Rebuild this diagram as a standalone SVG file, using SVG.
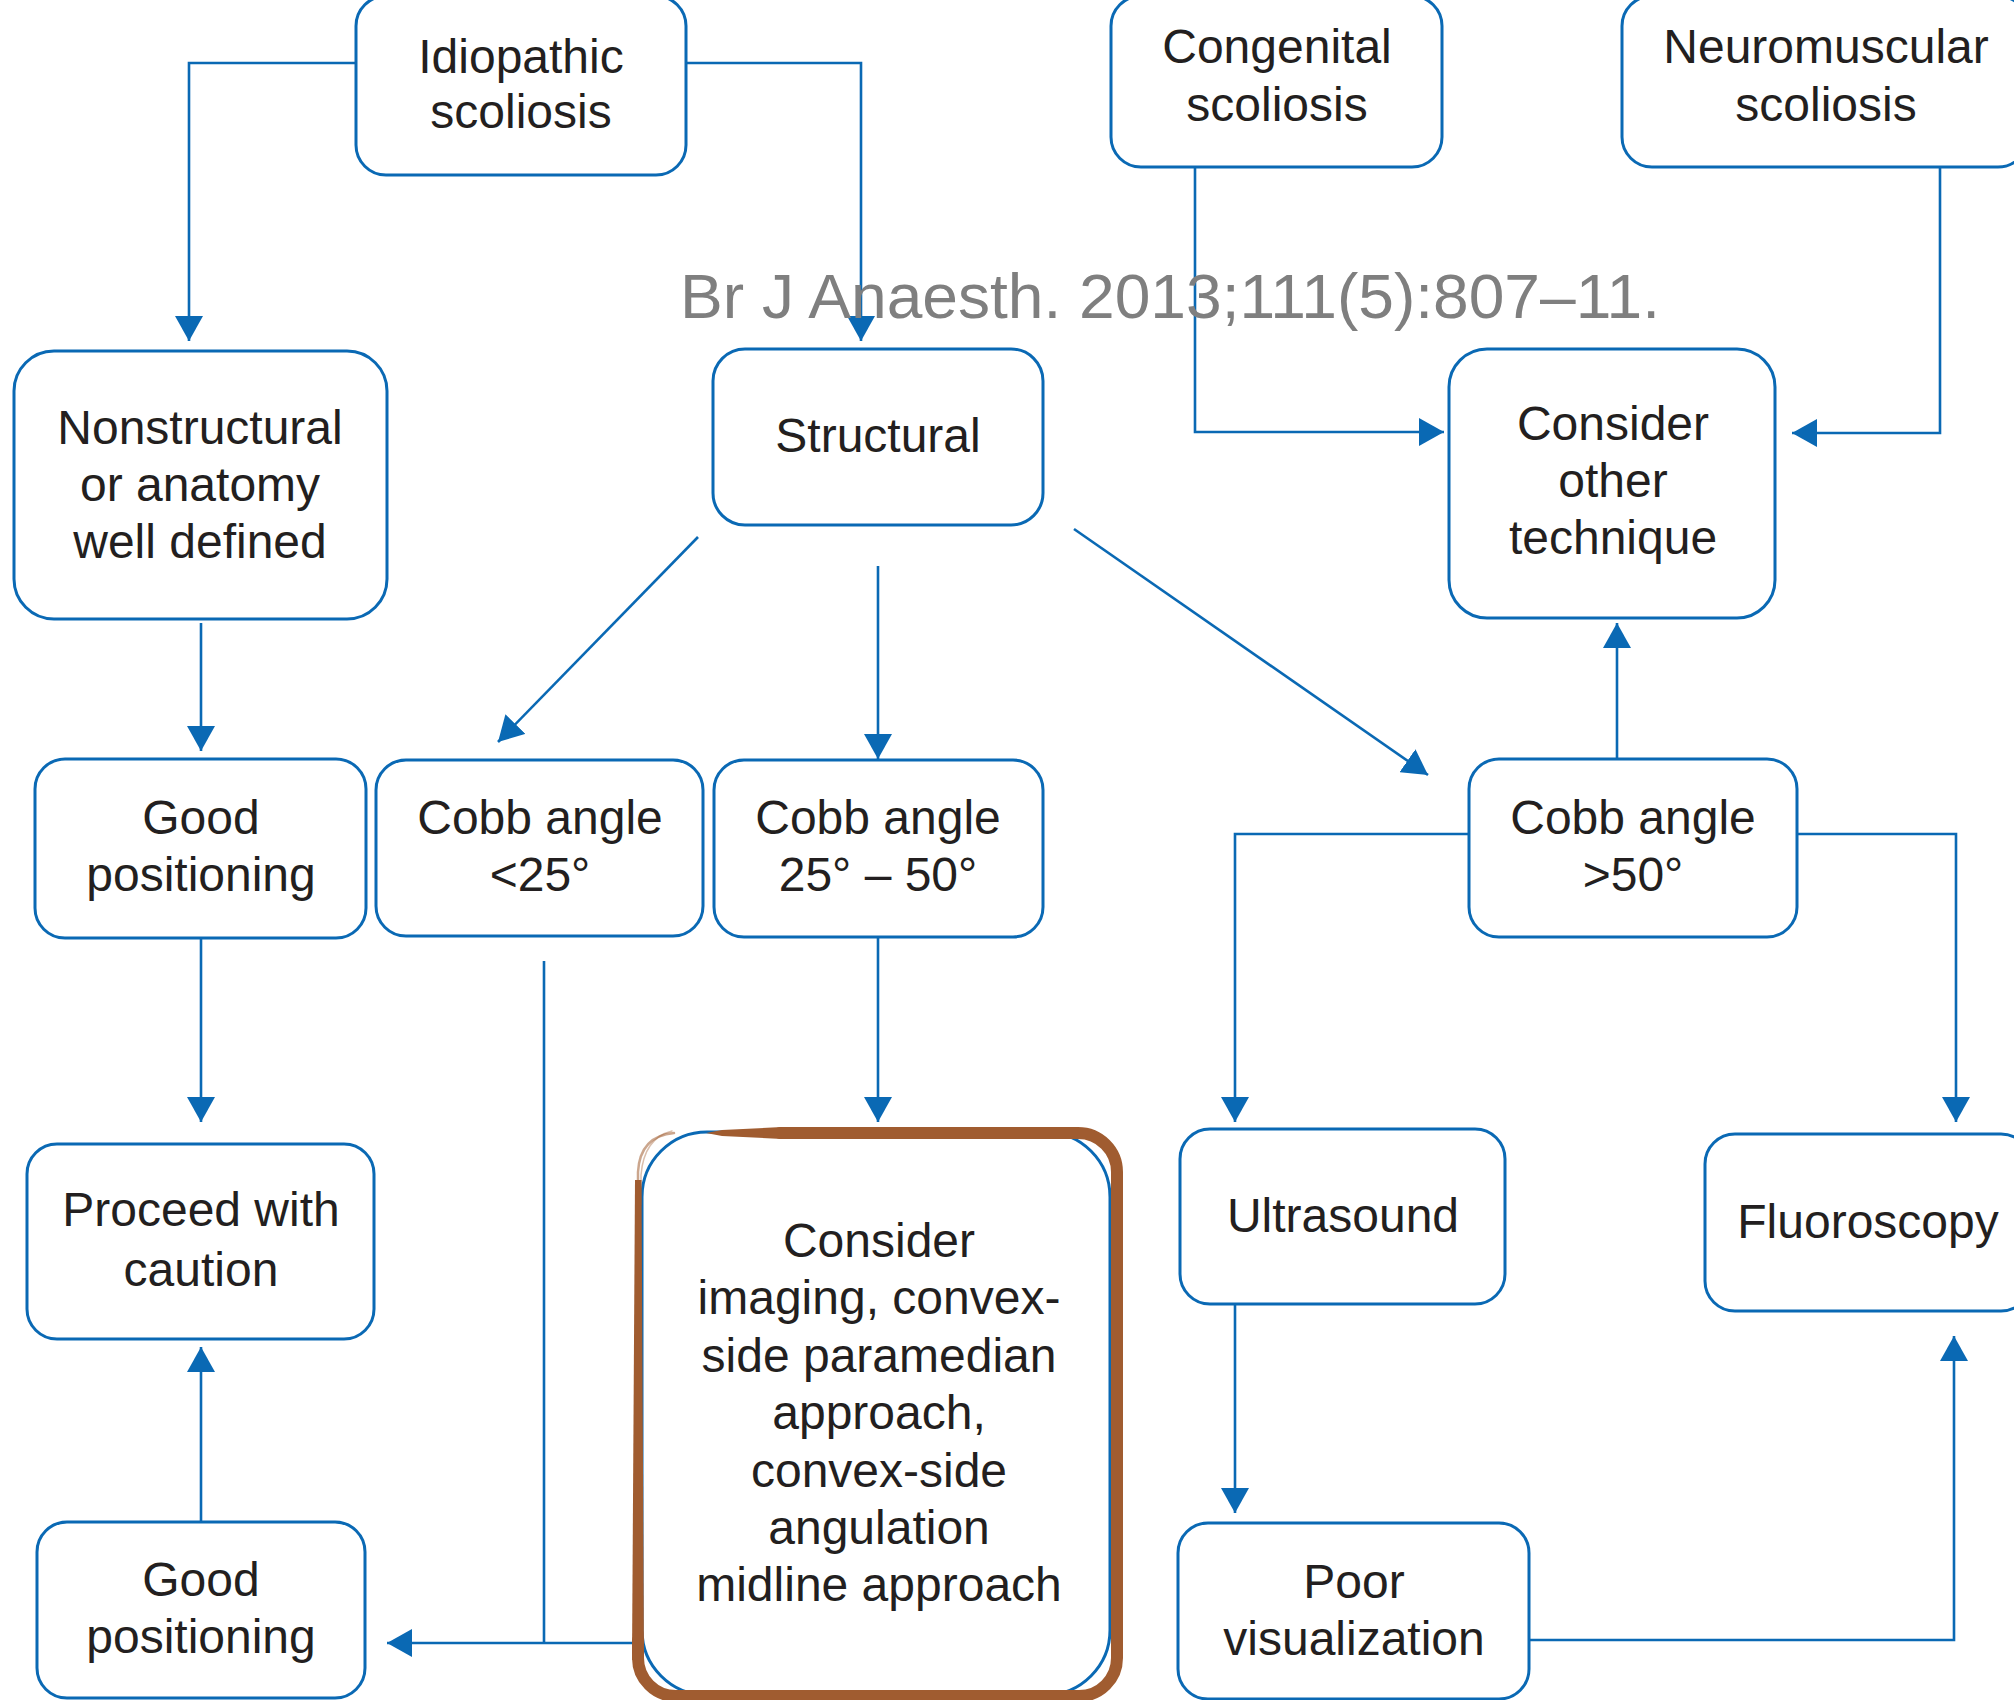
<svg xmlns="http://www.w3.org/2000/svg" width="2014" height="1700" viewBox="0 0 2014 1700">
  <defs>
    <style>
      .box { fill: #ffffff; stroke: #0a69b4; stroke-width: 3; }
      .lbl { font-family: "Liberation Sans", Arial, sans-serif; font-size: 48px; fill: #231f20; text-anchor: middle; }
      .wm { font-family: "Liberation Sans", Arial, sans-serif; font-size: 63px; fill: #7f7f7f; }
      .conn { fill: none; stroke: #0a69b4; stroke-width: 2.6; }
      .arr { marker-end: url(#head); }
      .mark { fill: none; stroke: #a05c30; stroke-linecap: round; stroke-linejoin: round; }
    </style>
    <marker id="head" markerUnits="userSpaceOnUse" markerWidth="26" markerHeight="28" refX="25" refY="14" orient="auto">
      <path d="M0,0 L25,14 L0,28 z" fill="#0a69b4"/>
    </marker>
  </defs>

  <rect width="2014" height="1700" fill="#ffffff"/>

  <!-- connectors -->
  <g id="connectors">
    <path class="conn arr" d="M356,63 H189 V341"/>
    <path class="conn arr" d="M686,63 H861 V341"/>
    <path class="conn arr" d="M1195,167 V432 H1444"/>
    <path class="conn arr" d="M1940,167 V433 H1792"/>
    <path class="conn arr" d="M698,537 L498,742"/>
    <path class="conn arr" d="M878,566 V759"/>
    <path class="conn arr" d="M1074,529 L1428,775"/>
    <path class="conn arr" d="M1617,759 V623"/>
    <path class="conn arr" d="M1469,834 H1235 V1122"/>
    <path class="conn arr" d="M1797,834 H1956 V1122"/>
    <path class="conn arr" d="M201,623 V751"/>
    <path class="conn arr" d="M201,938 V1122"/>
    <path class="conn arr" d="M878,937 V1122"/>
    <path class="conn" d="M544,961 V1643"/>
    <path class="conn arr" d="M638,1643 H387"/>
    <path class="conn arr" d="M201,1522 V1347"/>
    <path class="conn arr" d="M1235,1304 V1513"/>
    <path class="conn arr" d="M1529,1640 H1954 V1336"/>
  </g>

  <!-- citation -->
  <text class="wm" x="680" y="318" textLength="980" lengthAdjust="spacingAndGlyphs">Br J Anaesth. 2013;111(5):807–11.</text>

  <!-- nodes -->
  <g id="idiopathic">
    <rect class="box" x="356" y="-4" width="330" height="179" rx="30"/>
    <text class="lbl" x="521" y="73">Idiopathic</text>
    <text class="lbl" x="521" y="128">scoliosis</text>
  </g>
  <g id="congenital">
    <rect class="box" x="1111" y="-4" width="331" height="171" rx="30"/>
    <text class="lbl" x="1277" y="63">Congenital</text>
    <text class="lbl" x="1277" y="121">scoliosis</text>
  </g>
  <g id="neuromuscular">
    <rect class="box" x="1622" y="-4" width="406" height="171" rx="30"/>
    <text class="lbl" x="1826" y="63">Neuromuscular</text>
    <text class="lbl" x="1826" y="121">scoliosis</text>
  </g>
  <g id="nonstructural">
    <rect class="box" x="14" y="351" width="373" height="268" rx="40"/>
    <text class="lbl" x="200" y="444">Nonstructural</text>
    <text class="lbl" x="200" y="501">or anatomy</text>
    <text class="lbl" x="200" y="558">well defined</text>
  </g>
  <g id="structural">
    <rect class="box" x="713" y="349" width="330" height="176" rx="32"/>
    <text class="lbl" x="878" y="452">Structural</text>
  </g>
  <g id="other-technique">
    <rect class="box" x="1449" y="349" width="326" height="269" rx="38"/>
    <text class="lbl" x="1613" y="440">Consider</text>
    <text class="lbl" x="1613" y="497">other</text>
    <text class="lbl" x="1613" y="554">technique</text>
  </g>
  <g id="good-positioning-1">
    <rect class="box" x="35" y="759" width="331" height="179" rx="30"/>
    <text class="lbl" x="201" y="834">Good</text>
    <text class="lbl" x="201" y="891">positioning</text>
  </g>
  <g id="cobb-lt25">
    <rect class="box" x="376" y="760" width="327" height="176" rx="30"/>
    <text class="lbl" x="540" y="834">Cobb angle</text>
    <text class="lbl" x="540" y="891">&lt;25°</text>
  </g>
  <g id="cobb-25-50">
    <rect class="box" x="714" y="760" width="329" height="177" rx="30"/>
    <text class="lbl" x="878" y="834">Cobb angle</text>
    <text class="lbl" x="878" y="891">25° – 50°</text>
  </g>
  <g id="cobb-gt50">
    <rect class="box" x="1469" y="759" width="328" height="178" rx="30"/>
    <text class="lbl" x="1633" y="834">Cobb angle</text>
    <text class="lbl" x="1633" y="891">&gt;50°</text>
  </g>
  <g id="proceed">
    <rect class="box" x="27" y="1144" width="347" height="195" rx="30"/>
    <text class="lbl" x="201" y="1226">Proceed with</text>
    <text class="lbl" x="201" y="1286">caution</text>
  </g>
  <g id="imaging">
    <rect class="box" x="642" y="1132" width="468" height="563" rx="65"/>
    <text class="lbl" x="879" y="1257">Consider</text>
    <text class="lbl" x="879" y="1314">imaging, convex-</text>
    <text class="lbl" x="879" y="1372">side paramedian</text>
    <text class="lbl" x="879" y="1429">approach,</text>
    <text class="lbl" x="879" y="1487">convex-side</text>
    <text class="lbl" x="879" y="1544">angulation</text>
    <text class="lbl" x="879" y="1601">midline approach</text>
    <!-- hand-drawn highlight around the box -->
    <path class="mark" stroke-width="12" d="M780,1133 H1078 A39,39 0 0 1 1117,1172 V1658 A38,38 0 0 1 1079,1696 H676 A38,38 0 0 1 638,1658 V1640"/>
    <!-- tapered left stroke, thinner toward the top -->
    <polygon points="632,1660 644,1660 641.5,1180 635,1180" fill="#a05c30"/>
    <polygon points="706,1133 722,1130 782,1127 782,1139 722,1136" fill="#a05c30"/>
    <path class="mark" stroke-width="2.5" opacity="0.55" d="M638,1200 V1172 Q640,1136 674,1133"/>
    <path class="mark" stroke-width="1.5" opacity="0.4" d="M641,1205 V1175 Q644,1138 672,1131"/>
  </g>
  <g id="ultrasound">
    <rect class="box" x="1180" y="1129" width="325" height="175" rx="30"/>
    <text class="lbl" x="1343" y="1232">Ultrasound</text>
  </g>
  <g id="fluoroscopy">
    <rect class="box" x="1705" y="1134" width="326" height="177" rx="30"/>
    <text class="lbl" x="1868" y="1238">Fluoroscopy</text>
  </g>
  <g id="good-positioning-2">
    <rect class="box" x="37" y="1522" width="328" height="176" rx="30"/>
    <text class="lbl" x="201" y="1596">Good</text>
    <text class="lbl" x="201" y="1653">positioning</text>
  </g>
  <g id="poor-visualization">
    <rect class="box" x="1178" y="1523" width="351" height="176" rx="30"/>
    <text class="lbl" x="1354" y="1598">Poor</text>
    <text class="lbl" x="1354" y="1655">visualization</text>
  </g>
</svg>
